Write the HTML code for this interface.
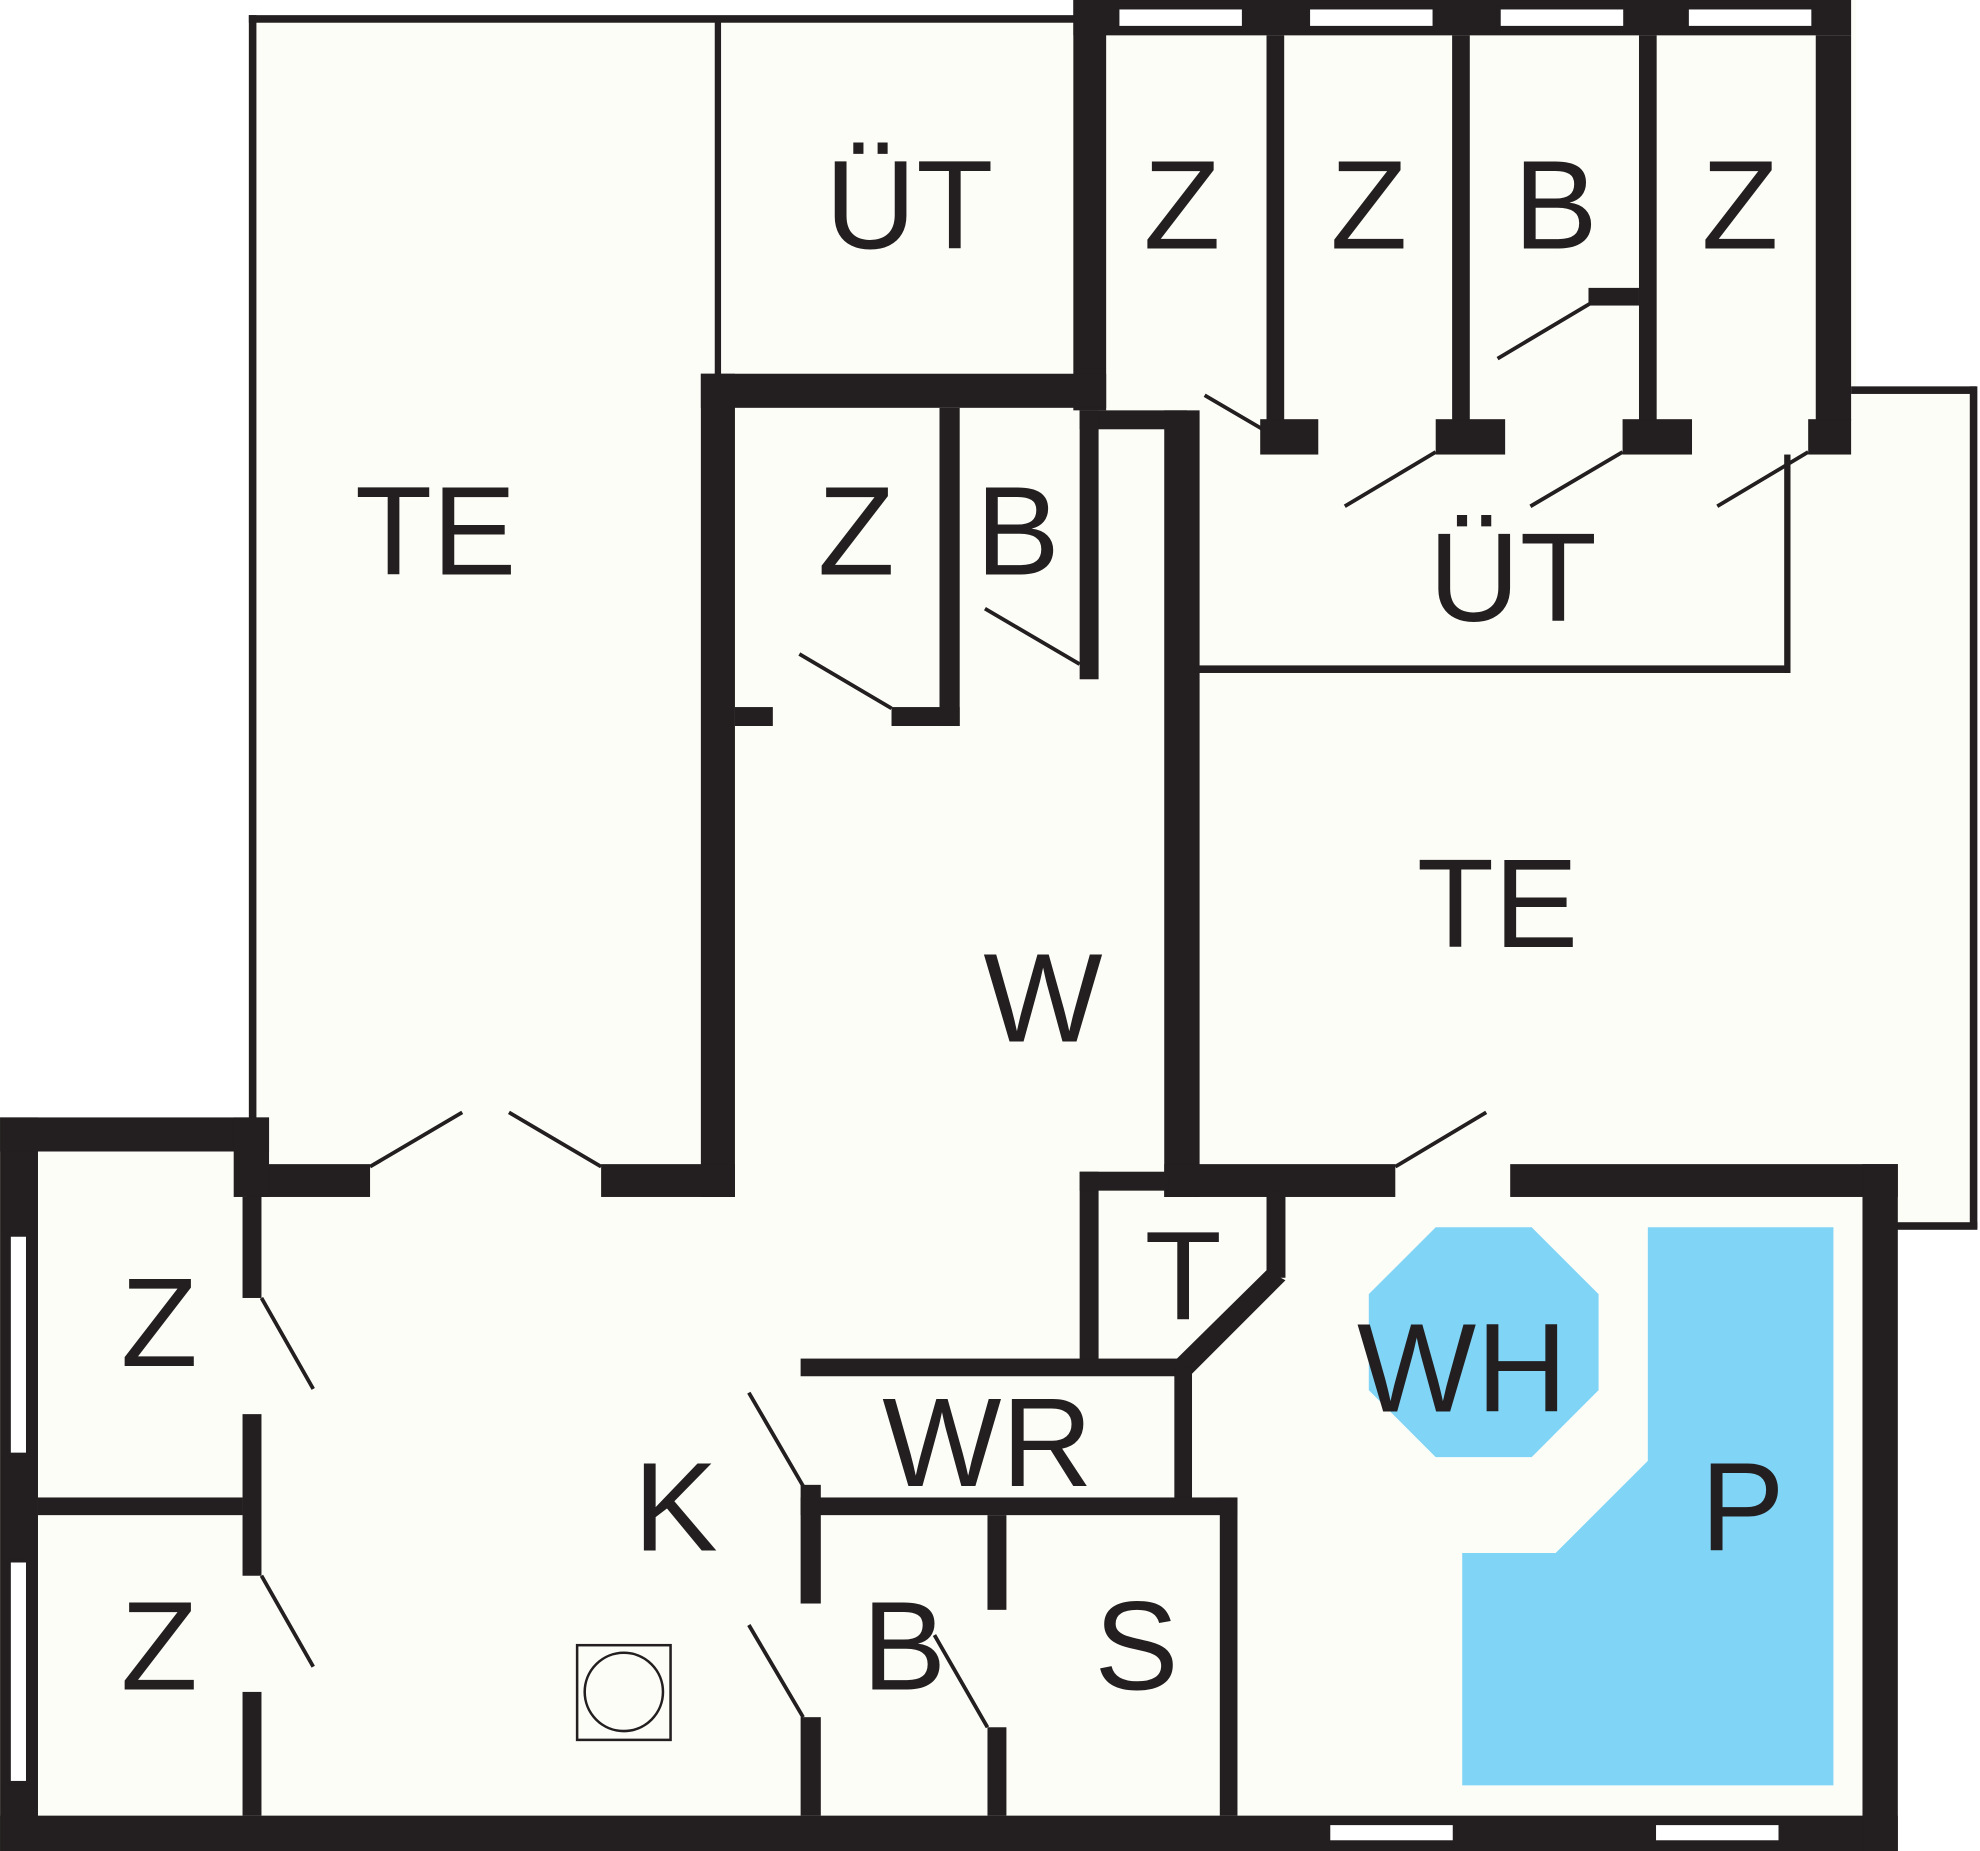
<!DOCTYPE html>
<html><head><meta charset="utf-8"><style>
html,body{margin:0;padding:0;background:#fff;}
svg{display:block;}
text{font-family:"Liberation Sans",sans-serif;font-size:100px;fill:#231f20;text-anchor:middle;}
</style></head><body>
<svg width="1980" height="1851" viewBox="0 0 1568 1466" xmlns="http://www.w3.org/2000/svg">
<rect width="1568" height="1466" fill="#fff"/>
<g fill="#fdfdf8">
<rect x="197" y="12" width="660" height="930"/>
<rect x="850" y="0" width="620" height="360"/>
<rect x="940" y="306" width="625" height="667"/>
<rect x="0" y="885" width="1503" height="581"/>
<rect x="582" y="323" width="345" height="630"/>
</g>
<!-- blue -->
<g fill="#80d4f6">
<polygon points="1137,972 1213,972 1266,1025 1266,1101 1213,1154 1137,1154 1084,1101 1084,1025"/>
<polygon points="1305,972 1452,972 1452,1414 1158,1414 1158,1230 1232,1230 1305,1157"/>
</g>
<g fill="#231f20">
<!-- thin outlines top-left -->
<rect x="197" y="12" width="6" height="875"/>
<rect x="197" y="12" width="655" height="6"/>
<rect x="566" y="14" width="5" height="284"/>
<!-- thick top -->
<rect x="850" y="0" width="616" height="28"/>
<rect x="850" y="0" width="26" height="325"/>
<rect x="555" y="296" width="321" height="27"/>
<rect x="555" y="296" width="27" height="652"/>
<!-- Z room walls top -->
<rect x="1003" y="28" width="14" height="305"/>
<rect x="1150" y="28" width="14" height="305"/>
<rect x="1298" y="28" width="14" height="305"/>
<rect x="1438" y="28" width="28" height="305"/>
<rect x="998" y="332" width="46" height="28"/>
<rect x="1137" y="332" width="55" height="28"/>
<rect x="1285" y="332" width="55" height="28"/>
<rect x="1432" y="332" width="34" height="28"/>
<rect x="1258" y="228" width="40" height="14"/>
<!-- small Z/B -->
<rect x="744" y="323" width="16" height="252"/>
<rect x="582" y="560" width="30" height="15"/>
<rect x="706" y="560" width="54" height="15"/>
<rect x="855" y="325" width="85" height="15"/>
<rect x="855" y="325" width="15" height="213"/>
<rect x="922" y="325" width="28" height="623"/>
<!-- UT right thin -->
<rect x="946" y="527" width="472" height="6"/>
<rect x="1413" y="360" width="5" height="173"/>
<!-- TE right outline -->
<rect x="1466" y="306" width="99" height="6"/>
<rect x="1560" y="306" width="6" height="667"/>
<rect x="1500" y="968" width="66" height="6"/>
<!-- horizontal wall at 922 -->
<rect x="922" y="922" width="183" height="26"/>
<rect x="1196" y="922" width="307" height="26"/>
<rect x="195" y="922" width="98" height="26"/>
<rect x="476" y="922" width="106" height="26"/>
<!-- outer left/bottom -->
<rect x="0" y="885" width="30" height="581"/>
<rect x="0" y="885" width="213" height="27"/>
<rect x="185" y="885" width="28" height="63"/>
<rect x="0" y="1438" width="1503" height="28"/>
<rect x="1475" y="922" width="28" height="544"/>
<!-- left Z rooms -->
<rect x="30" y="1186" width="162" height="14"/>
<rect x="192" y="948" width="15" height="80"/>
<rect x="192" y="1120" width="15" height="128"/>
<rect x="192" y="1340" width="15" height="98"/>
<!-- T / WR -->
<rect x="855" y="928" width="15" height="155"/>
<rect x="855" y="928" width="70" height="15"/>
<rect x="1003" y="943" width="15" height="69"/>
<polygon points="1003,1006 1018,1014 944,1088 930,1078"/>
<rect x="634" y="1076" width="302" height="14"/>
<rect x="930" y="1082" width="14" height="108"/>
<rect x="634" y="1186" width="346" height="14"/>
<rect x="966" y="1186" width="14" height="252"/>
<rect x="634" y="1176" width="16" height="94"/>
<rect x="634" y="1360" width="16" height="78"/>
<rect x="782" y="1200" width="15" height="75"/>
<rect x="782" y="1368" width="15" height="70"/>
</g>
<!-- windows -->
<g fill="#fff" stroke="#231f20" stroke-width="3">
<rect x="885" y="6" width="100" height="16"/>
<rect x="1036" y="6" width="100" height="16"/>
<rect x="1187" y="6" width="100" height="16"/>
<rect x="1336" y="6" width="100" height="16"/>
<rect x="7" y="978" width="15" height="174"/>
<rect x="7" y="1236" width="15" height="176"/>
<rect x="1052" y="1444" width="100" height="15"/>
<rect x="1310" y="1444" width="100" height="15"/>
</g>
<!-- door swings -->
<g stroke="#231f20" stroke-width="3" fill="none">
<line x1="954" y1="313" x2="1000" y2="340"/>
<line x1="1065" y1="401" x2="1137" y2="358"/>
<line x1="1212" y1="401" x2="1285" y2="358"/>
<line x1="1360" y1="401" x2="1432" y2="358"/>
<line x1="1186" y1="284" x2="1260" y2="240"/>
<line x1="633" y1="518" x2="706" y2="561"/>
<line x1="780" y1="482" x2="855" y2="526"/>
<line x1="293" y1="924" x2="366" y2="881"/>
<line x1="403" y1="881" x2="476" y2="924"/>
<line x1="1105" y1="924" x2="1177" y2="881"/>
<line x1="207" y1="1028" x2="248" y2="1100"/>
<line x1="207" y1="1248" x2="248" y2="1320"/>
<line x1="593" y1="1103" x2="636" y2="1177"/>
<line x1="593" y1="1287" x2="636" y2="1360"/>
<line x1="740" y1="1295" x2="782" y2="1368"/>
</g>
<!-- stove -->
<rect x="457" y="1303" width="74" height="75" fill="none" stroke="#231f20" stroke-width="2"/>
<circle cx="494" cy="1340" r="31" fill="none" stroke="#231f20" stroke-width="2"/>
<!-- labels -->
<text x="720" y="197">ÜT</text>
<text x="936" y="197">Z</text>
<text x="1084" y="197">Z</text>
<text x="1232" y="197">B</text>
<text x="1378" y="197">Z</text>
<text x="345" y="455">TE</text>
<text x="678" y="455">Z</text>
<text x="806" y="455">B</text>
<text x="1198" y="492">ÜT</text>
<text x="1186" y="750">TE</text>
<text x="826" y="825">W</text>
<text x="937" y="1045">T</text>
<text x="1158" y="1118">WH</text>
<text x="782" y="1177">WR</text>
<text x="535" y="1228">K</text>
<text x="1380" y="1228">P</text>
<text x="126" y="1082">Z</text>
<text x="126" y="1338">Z</text>
<text x="716" y="1338">B</text>
<text x="900" y="1338">S</text>
</svg>
</body></html>
